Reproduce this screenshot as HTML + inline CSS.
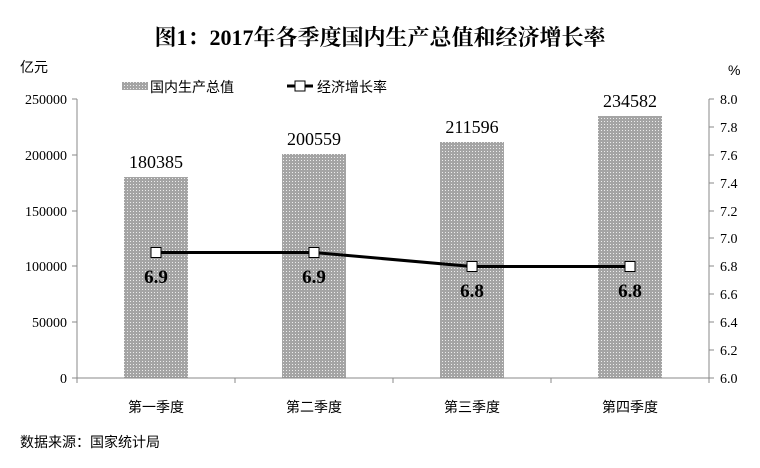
<html><head><style>body{margin:0;background:#fff}</style></head><body>
<svg width="760" height="468" xmlns="http://www.w3.org/2000/svg" font-family="'Liberation Serif', 'Noto Serif CJK SC', serif">
<defs><pattern id="p" width="3" height="3" patternUnits="userSpaceOnUse"><rect width="3" height="3" fill="#a4a4a4"/><rect x="1" y="1" width="1" height="1" fill="#ececec"/></pattern></defs>
<text x="380" y="45" text-anchor="middle" font-size="22" font-weight="bold">图1：2017年各季度国内生产总值和经济增长率</text>
<g font-family="'Liberation Sans', 'Noto Sans CJK SC', sans-serif" font-size="14">
<text x="20" y="72">亿元</text><text x="728" y="75">%</text>
<text x="150" y="92">国内生产总值</text><text x="317" y="92">经济增长率</text>
<text x="20" y="447">数据来源：国家统计局</text>
<text x="156" y="412" text-anchor="middle">第一季度</text><text x="314" y="412" text-anchor="middle">第二季度</text><text x="472" y="412" text-anchor="middle">第三季度</text><text x="630" y="412" text-anchor="middle">第四季度</text>
</g>
<rect x="122" y="82" width="26" height="8" fill="url(#p)"/>
<line x1="287" y1="86" x2="313" y2="86" stroke="#000" stroke-width="3"/><rect x="295" y="81" width="10" height="10" fill="#fff" stroke="#000"/>
<g fill="url(#p)">
<rect x="124" y="177" width="64" height="201"/><rect x="282" y="154" width="64" height="224"/><rect x="440" y="142" width="64" height="236"/><rect x="598" y="116" width="64" height="262"/>
</g>
<g stroke="#888" fill="none">
<line x1="77" y1="99" x2="77" y2="378"/><line x1="77" y1="378" x2="709" y2="378"/><line x1="709" y1="99" x2="709" y2="378"/>
<path d="M72 99h5M72 155h5M72 211h5M72 266h5M72 322h5M72 378h5"/>
<path d="M709 99h5M709 127h5M709 155h5M709 183h5M709 211h5M709 238h5M709 266h5M709 294h5M709 322h5M709 350h5M709 378h5"/>
<path d="M235 378v5M393 378v5M551 378v5M709 378v5M77 378v5"/>
</g>
<g font-size="14" text-anchor="end" font-family="'Liberation Serif', serif">
<text x="67" y="104">250000</text><text x="67" y="160">200000</text><text x="67" y="216">150000</text><text x="67" y="271">100000</text><text x="67" y="327">50000</text><text x="67" y="383">0</text>
</g>
<g font-size="14" font-family="'Liberation Serif', serif">
<text x="720" y="104">8.0</text><text x="720" y="132">7.8</text><text x="720" y="160">7.6</text><text x="720" y="188">7.4</text><text x="720" y="216">7.2</text><text x="720" y="243">7.0</text><text x="720" y="271">6.8</text><text x="720" y="299">6.6</text><text x="720" y="327">6.4</text><text x="720" y="355">6.2</text><text x="720" y="383">6.0</text>
</g>
<g font-size="18" text-anchor="middle">
<text x="156" y="168">180385</text><text x="314" y="145">200559</text><text x="472" y="133">211596</text><text x="630" y="107">234582</text>
</g>
<polyline points="156,252.5 314,252.5 472,266.5 630,266.5" fill="none" stroke="#000" stroke-width="3"/>
<g fill="#fff" stroke="#000"><rect x="151" y="247.5" width="10" height="10"/><rect x="309" y="247.5" width="10" height="10"/><rect x="467" y="261.5" width="10" height="10"/><rect x="625" y="261.5" width="10" height="10"/></g>
<g font-size="19" font-weight="bold" text-anchor="middle">
<text x="156" y="283">6.9</text><text x="314" y="283">6.9</text><text x="472" y="297">6.8</text><text x="630" y="297">6.8</text>
</g>
</svg>
</body></html>
